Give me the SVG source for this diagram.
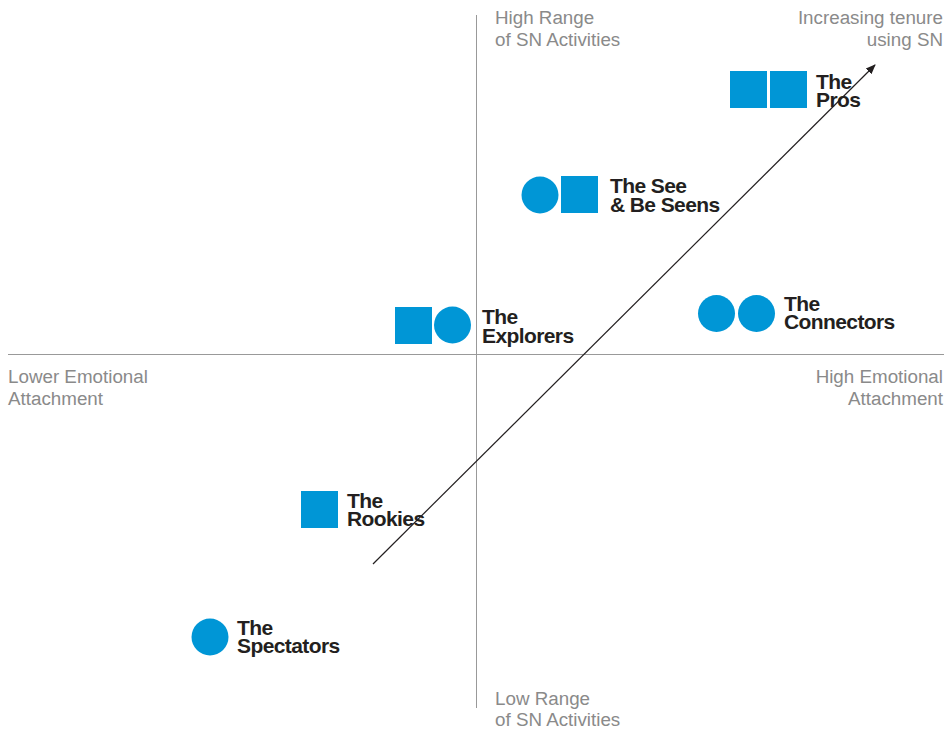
<svg xmlns="http://www.w3.org/2000/svg" width="946" height="729" viewBox="0 0 946 729">
<style>
.ax{stroke:#999;stroke-width:1;fill:none}
.lbl{font-family:"Liberation Sans",Arial,sans-serif;font-size:18.8px;fill:#8a8a8a}
.r{text-anchor:end}
.nm{font-family:"Liberation Sans",Arial,sans-serif;font-size:21px;font-weight:bold;fill:#231f20;letter-spacing:-0.6px}
.b{fill:#0096d6}
</style>
<defs>
<marker id="ah" viewBox="0 0 10 10" refX="9" refY="5" markerWidth="10" markerHeight="10" markerUnits="userSpaceOnUse" orient="auto">
<path d="M0,1 L10,5 L0,9 Z" fill="#231f20"/>
</marker>
</defs>
<g id="axes">
<line class="ax" x1="8" y1="354.5" x2="944" y2="354.5"/>
<line class="ax" x1="476.5" y1="15" x2="476.5" y2="708"/>
</g>
<g id="axis-labels">
<text class="lbl" x="495" y="24">High Range</text>
<text class="lbl" x="495" y="46">of SN Activities</text>
<text class="lbl" x="495" y="705">Low Range</text>
<text class="lbl" x="495" y="726">of SN Activities</text>
<text class="lbl" x="8" y="383">Lower Emotional</text>
<text class="lbl" x="8" y="405">Attachment</text>
<text class="lbl r" x="943" y="383">High Emotional</text>
<text class="lbl r" x="943" y="405">Attachment</text>
<text class="lbl r" x="943" y="24">Increasing tenure</text>
<text class="lbl r" x="943" y="46">using SN</text>
</g>
<g id="connectors">
<line x1="373" y1="564" x2="875" y2="65" stroke="#231f20" stroke-width="1.2" marker-end="url(#ah)"/>
</g>
<g id="pros">
<rect class="b" x="730" y="71" width="37" height="37"/>
<rect class="b" x="770" y="71" width="37" height="37"/>
<text class="nm" x="816" y="89">The</text>
<text class="nm" x="816" y="107">Pros</text>
</g>
<g id="see-be-seens">
<circle class="b" cx="540" cy="195" r="18.5"/>
<rect class="b" x="561" y="176" width="37" height="37"/>
<text class="nm" x="610" y="193">The See</text>
<text class="nm" x="610" y="212">&amp; Be Seens</text>
</g>
<g id="explorers">
<rect class="b" x="395" y="307" width="37" height="37"/>
<circle class="b" cx="452.5" cy="325" r="18.5"/>
<text class="nm" x="482" y="324">The</text>
<text class="nm" x="482" y="343">Explorers</text>
</g>
<g id="connectors-node">
<circle class="b" cx="716.5" cy="313.5" r="18.5"/>
<circle class="b" cx="756.5" cy="313.5" r="18.5"/>
<text class="nm" x="784" y="311">The</text>
<text class="nm" x="784" y="329">Connectors</text>
</g>
<g id="rookies">
<rect class="b" x="301" y="491" width="37" height="37"/>
<text class="nm" x="347" y="508">The</text>
<text class="nm" x="347" y="526">Rookies</text>
</g>
<g id="spectators">
<circle class="b" cx="210" cy="637" r="18.5"/>
<text class="nm" x="237" y="635">The</text>
<text class="nm" x="237" y="653">Spectators</text>
</g>
</svg>
